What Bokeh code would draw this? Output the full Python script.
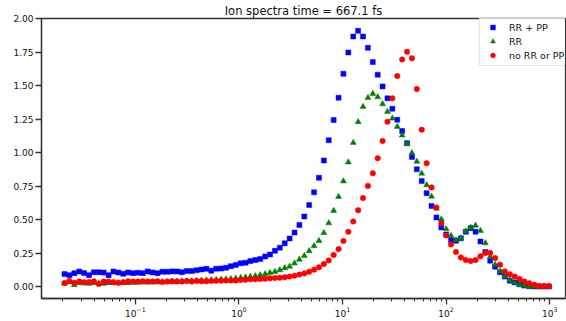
from bokeh.plotting import figure
from bokeh.models import Range1d, FixedTicker, NumeralTickFormatter, Legend, LegendItem, ColumnDataSource
from bokeh.embed import file_html
from bokeh.resources import INLINE

# energy grid (x), log-spaced bins
energy = [
    0.02075, 0.02312, 0.02579, 0.02875, 0.03205, 0.03573, 0.03985, 0.04443, 0.04953, 0.05524,
    0.06157, 0.06864, 0.07654, 0.08531, 0.09510, 0.1060, 0.1182, 0.1318, 0.1469, 0.1638,
    0.1826, 0.2036, 0.2270, 0.2530, 0.2821, 0.3145, 0.3507, 0.3910, 0.4359, 0.4860,
    0.5418, 0.6041, 0.6735, 0.7509, 0.8372, 0.9333, 1.041, 1.160, 1.293, 1.442,
    1.608, 1.792, 1.998, 2.228, 2.484, 2.770, 3.088, 3.443, 3.837, 4.279,
    4.770, 5.318, 5.929, 6.611, 7.370, 8.217, 9.162, 10.21, 11.39, 12.70,
    14.16, 15.78, 17.60, 19.61, 21.87, 24.38, 27.18, 30.30, 33.79, 37.67,
    42.00, 46.82, 52.20, 58.20, 64.89, 72.34, 80.65, 89.90, 100.2, 111.7,
    124.6, 138.9, 154.9, 172.6, 192.5, 214.6, 239.3, 266.7, 297.4, 331.5,
    369.6, 412.1, 459.5, 512.2, 571.0, 636.8, 709.9, 791.3, 882.3, 983.5,
]

rr_pp = [
    0.097, 0.087, 0.102, 0.115, 0.104, 0.088, 0.109, 0.110, 0.107, 0.088,
    0.115, 0.108, 0.098, 0.108, 0.103, 0.106, 0.103, 0.116, 0.108, 0.103,
    0.113, 0.113, 0.116, 0.116, 0.110, 0.118, 0.119, 0.124, 0.130, 0.135,
    0.121, 0.136, 0.137, 0.143, 0.155, 0.164, 0.176, 0.181, 0.193, 0.201,
    0.208, 0.227, 0.242, 0.269, 0.293, 0.325, 0.361, 0.405, 0.461, 0.525,
    0.610, 0.705, 0.813, 0.942, 1.093, 1.244, 1.410, 1.588, 1.747, 1.866,
    1.908, 1.866, 1.782, 1.675, 1.581, 1.494, 1.405, 1.328, 1.246, 1.162,
    1.071, 0.969, 0.877, 0.790, 0.699, 0.604, 0.518, 0.443, 0.390, 0.349,
    0.345, 0.362, 0.411, 0.438, 0.411, 0.339, 0.260, 0.196, 0.151, 0.109,
    0.077, 0.047, 0.034, 0.020, 0.010, 0.005, 0.003, 0.003, 0.003, 0.003,
]

rr = [
    0.025, 0.035, 0.015, 0.030, 0.028, 0.025, 0.030, 0.028, 0.025, 0.030,
    0.030, 0.028, 0.032, 0.030, 0.033, 0.033, 0.035, 0.035, 0.035, 0.036,
    0.036, 0.038, 0.040, 0.040, 0.042, 0.043, 0.045, 0.047, 0.049, 0.050,
    0.052, 0.054, 0.056, 0.058, 0.060, 0.064, 0.069, 0.072, 0.077, 0.082,
    0.089, 0.096, 0.106, 0.114, 0.126, 0.141, 0.153, 0.176, 0.205, 0.232,
    0.268, 0.305, 0.344, 0.403, 0.476, 0.568, 0.672, 0.788, 0.929, 1.075,
    1.229, 1.343, 1.410, 1.440, 1.415, 1.363, 1.306, 1.256, 1.194, 1.130,
    1.068, 0.999, 0.934, 0.845, 0.760, 0.674, 0.585, 0.505, 0.431, 0.381,
    0.349, 0.364, 0.415, 0.443, 0.458, 0.419, 0.327, 0.225, 0.166, 0.116,
    0.080, 0.050, 0.030, 0.018, 0.010, 0.005, 0.003, 0.002, 0.002, 0.002,
]

no_rr_pp = [
    0.030, 0.044, 0.032, 0.040, 0.035, 0.037, 0.042, 0.022, 0.040, 0.040,
    0.035, 0.032, 0.035, 0.042, 0.040, 0.040, 0.042, 0.040, 0.040, 0.042,
    0.037, 0.040, 0.042, 0.040, 0.040, 0.044, 0.040, 0.044, 0.042, 0.042,
    0.044, 0.047, 0.047, 0.049, 0.049, 0.049, 0.052, 0.054, 0.057, 0.057,
    0.059, 0.062, 0.064, 0.067, 0.069, 0.072, 0.077, 0.084, 0.092, 0.101,
    0.114, 0.129, 0.146, 0.171, 0.198, 0.238, 0.282, 0.342, 0.411, 0.488,
    0.572, 0.662, 0.753, 0.847, 0.959, 1.088, 1.231, 1.405, 1.571, 1.695,
    1.752, 1.703, 1.474, 1.172, 0.922, 0.741, 0.592, 0.476, 0.384, 0.317,
    0.260, 0.220, 0.200, 0.194, 0.200, 0.228, 0.253, 0.253, 0.215, 0.166,
    0.116, 0.094, 0.077, 0.059, 0.040, 0.027, 0.017, 0.007, 0.007, 0.007,
]

series_labels = ["RR + PP", "RR", "no RR or PP"]
y_ticks = [0.0, 0.25, 0.5, 0.75, 1.0, 1.25, 1.5, 1.75, 2.0]
title_text = "Ion spectra time = 667.1 fs"

FONT = "DejaVu Sans"
AX = "#333333"

p = figure(width=566, height=321, x_axis_type="log",
           x_range=Range1d(0.01244, 1421), y_range=Range1d(-0.086, 2.0),
           output_backend="svg", toolbar_location=None,
           min_border_left=41, min_border_right=1, min_border_bottom=23, min_border_top=17,
           title=title_text)

p.title.text_font = FONT
p.title.text_font_size = "11.5px"
p.title.text_font_style = "normal"
p.title.align = "center"
p.title.text_color = "#111111"
p.title.standoff = 2

p.grid.visible = False
p.outline_line_color = AX
p.outline_line_width = 1.3
p.background_fill_color = "white"
p.border_fill_color = "white"

for ax in (p.xaxis[0], p.yaxis[0]):
    ax.axis_line_color = AX
    ax.axis_line_width = 1.3
    ax.major_tick_line_color = AX
    ax.major_tick_line_width = 1.3
    ax.major_tick_out = 6
    ax.major_tick_in = 0
    ax.minor_tick_line_color = AX
    ax.minor_tick_line_width = 1
    ax.minor_tick_out = 3
    ax.minor_tick_in = 0
    ax.major_label_text_font = FONT
    ax.major_label_text_font_size = "9px"
    ax.major_label_text_color = "#111111"
    ax.major_label_standoff = 2

p.yaxis[0].ticker = FixedTicker(ticks=y_ticks)
p.yaxis[0].formatter = NumeralTickFormatter(format="0.00")
p.yaxis[0].minor_tick_line_color = None

src = ColumnDataSource(dict(x=energy, a=rr_pp, b=rr, c=no_rr_pp))

r1 = p.scatter("x", "a", source=src, marker="square", size=5,
               fill_color="#0000ff", line_color="#0000ff", line_width=0.5)
r2 = p.scatter("x", "b", source=src, marker="triangle", size=6,
               fill_color="#008000", line_color="#008000", line_width=0.5)
r3 = p.scatter("x", "c", source=src, marker="circle", size=5.5,
               fill_color="#ff0000", line_color="#ff0000", line_width=0.5)

legend = Legend(items=[LegendItem(label=series_labels[0], renderers=[r1]),
                       LegendItem(label=series_labels[1], renderers=[r2]),
                       LegendItem(label=series_labels[2], renderers=[r3])],
                location=(438, 232))
legend.label_text_font = FONT
legend.label_text_font_size = "9.5px"
legend.label_text_color = "#111111"
legend.glyph_width = 17
legend.glyph_height = 12
legend.label_height = 12
legend.spacing = 2
legend.padding = 4
legend.label_standoff = 8
legend.border_line_color = "#cccccc"
legend.border_line_width = 1
legend.background_fill_color = "white"
legend.background_fill_alpha = 0.8
p.add_layout(legend, "center")

open("out.html", "w").write(file_html(p, INLINE))
